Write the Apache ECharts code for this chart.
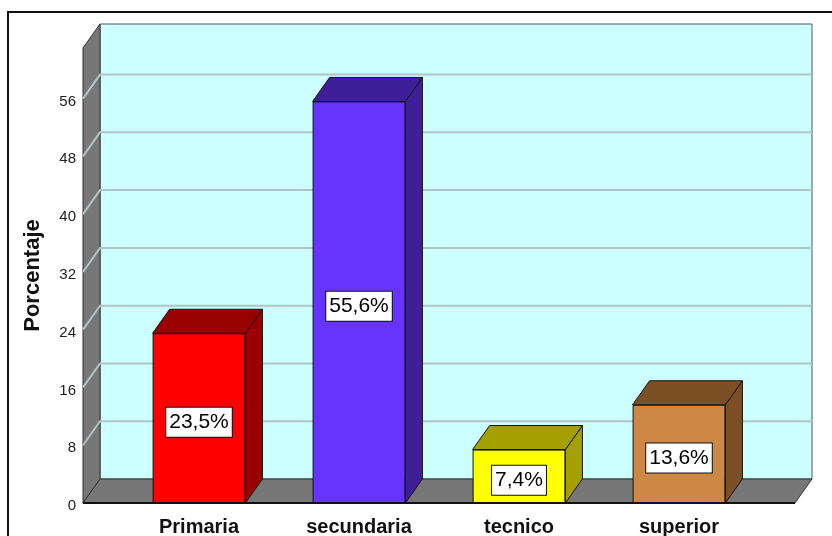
<!DOCTYPE html>
<html>
<head>
<meta charset="utf-8">
<script src="https://cdn.jsdelivr.net/npm/echarts@6/dist/echarts.min.js"></script>
<style>
  html, body { margin: 0; padding: 0; background: #ffffff; }
  #chart { width: 832px; height: 536px; }
</style>
</head>
<body>
<div id="chart"></div>
<script>
// Nivel de estudios (porcentaje)
const categories = ['Primaria', 'secundaria', 'tecnico', 'superior'];
const values = [23.5, 55.6, 7.4, 13.6];
const frontColors = ['#ff0000', '#6633ff', '#ffff00', '#cc8844'];
const shadeColors = ['#990000', '#3f1f99', '#a3a000', '#7d4f24'];
const yTicks = [0, 8, 16, 24, 32, 40, 48, 56];
const yMax = 63;

// depth of the pseudo-3D projection, in pixels
const DX = 17, DY = 24;
// how far the walls extend beyond the category band on each side
const SIDE_PAD = 36;

const font = "'Liberation Sans', Arial, sans-serif";

function fmt(v) { return v.toFixed(1).replace('.', ',') + '%'; }

// walls, floor and gridlines
function renderRoom(params, api) {
  const cs = params.coordSys;
  const xl = cs.x - SIDE_PAD;
  const xr = cs.x + cs.width + SIDE_PAD;
  const yb = api.coord([0, 0])[1];
  const yt = api.coord([0, yMax])[1];
  const children = [];
  // back wall
  children.push({
    type: 'rect',
    shape: { x: xl + DX, y: yt - DY, width: xr - xl, height: yb - yt },
    style: { fill: '#ccffff', stroke: '#555555', lineWidth: 1 }
  });
  // left wall
  children.push({
    type: 'polygon',
    shape: { points: [[xl, yt], [xl + DX, yt - DY], [xl + DX, yb - DY], [xl, yb]] },
    style: { fill: '#777777', stroke: '#333333', lineWidth: 1 }
  });
  // gridlines on back wall and left wall
  yTicks.forEach(function (t) {
    if (t === 0) return;
    const y = api.coord([0, t])[1];
    children.push({
      type: 'polyline',
      shape: { points: [[xl, y], [xl + DX, y - DY], [xr + DX, y - DY]] },
      style: { stroke: '#b0c4c4', lineWidth: 2, fill: null }
    });
  });
  // floor
  children.push({
    type: 'polygon',
    shape: { points: [[xl, yb], [xl + DX, yb - DY], [xr + DX, yb - DY], [xr, yb]] },
    style: { fill: '#777777', stroke: '#333333', lineWidth: 1 }
  });
  children.push({
    type: 'line',
    shape: { x1: xl, y1: yb, x2: xr, y2: yb },
    style: { stroke: '#111111', lineWidth: 2 }
  });
  return { type: 'group', children: children };
}

// top and side faces of each bar
function renderBarDepth(params, api) {
  const i = api.value(0);
  const v = api.value(1);
  const top = api.coord([i, v]);
  const base = api.coord([i, 0]);
  const w = api.size([1, 0])[0] * 0.58;
  const x0 = top[0] - w / 2, x1 = top[0] + w / 2;
  const yT = top[1], yB = base[1];
  const fill = shadeColors[i];
  return {
    type: 'group',
    children: [
      {
        type: 'polygon',
        shape: { points: [[x1, yT], [x1 + DX, yT - DY], [x1 + DX, yB - DY], [x1, yB]] },
        style: { fill: fill, stroke: '#111111', lineWidth: 1 }
      },
      {
        type: 'polygon',
        shape: { points: [[x0, yT], [x0 + DX, yT - DY], [x1 + DX, yT - DY], [x1, yT]] },
        style: { fill: fill, stroke: '#111111', lineWidth: 1 }
      }
    ]
  };
}

const chart = echarts.init(document.getElementById('chart'));
chart.setOption({
  animation: false,
  backgroundColor: '#ffffff',
  graphic: [{
    type: 'rect',
    shape: { x: 8, y: 12, width: 900, height: 600 },
    style: { fill: null, stroke: '#111111', lineWidth: 2 },
    z: 100
  }],
  grid: { left: 119, right: 73, top: 48, bottom: 33, containLabel: false, outerBoundsMode: 'none' },
  xAxis: {
    type: 'category',
    data: categories,
    axisLine: { show: false },
    axisTick: { show: false },
    axisLabel: {
      margin: 14,
      fontFamily: font,
      fontSize: 20,
      fontWeight: 'bold',
      color: '#111111'
    }
  },
  yAxis: {
    type: 'value',
    min: 0,
    max: yMax,
    interval: 8,
    offset: SIDE_PAD,
    name: 'Porcentaje',
    nameLocation: 'middle',
    nameRotate: 90,
    nameGap: 39,
    nameTextStyle: { fontFamily: font, fontSize: 22, fontWeight: 'bold', color: '#111111' },
    axisLine: { show: true, lineStyle: { color: '#222222', width: 1 } },
    axisTick: { show: false },
    splitLine: { show: false },
    axisLabel: {
      margin: 7,
      showMaxLabel: false,
      verticalAlign: 'top',
      lineHeight: 6,
      fontFamily: font,
      fontSize: 15,
      color: '#222222'
    }
  },
  series: [
    {
      type: 'custom',
      renderItem: renderRoom,
      data: [[0, 0]],
      clip: false,
      silent: true,
      z: 1
    },
    {
      type: 'bar',
      data: values.map(function (v, i) {
        return { value: v, itemStyle: { color: frontColors[i] } };
      }),
      barWidth: '58%',
      itemStyle: { borderColor: '#111111', borderWidth: 1 },
      label: {
        show: true,
        position: 'inside',
        offset: [0, 4],
        formatter: function (p) { return fmt(p.value); },
        fontFamily: font,
        fontSize: 21,
        color: '#000000',
        backgroundColor: '#ffffff',
        borderColor: '#111111',
        borderWidth: 1,
        padding: [5, 3, 3, 3]
      },
      z: 3
    },
    {
      type: 'custom',
      renderItem: renderBarDepth,
      data: values.map(function (v, i) { return [i, v]; }),
      clip: false,
      silent: true,
      z: 2
    }
  ]
});
</script>
</body>
</html>
